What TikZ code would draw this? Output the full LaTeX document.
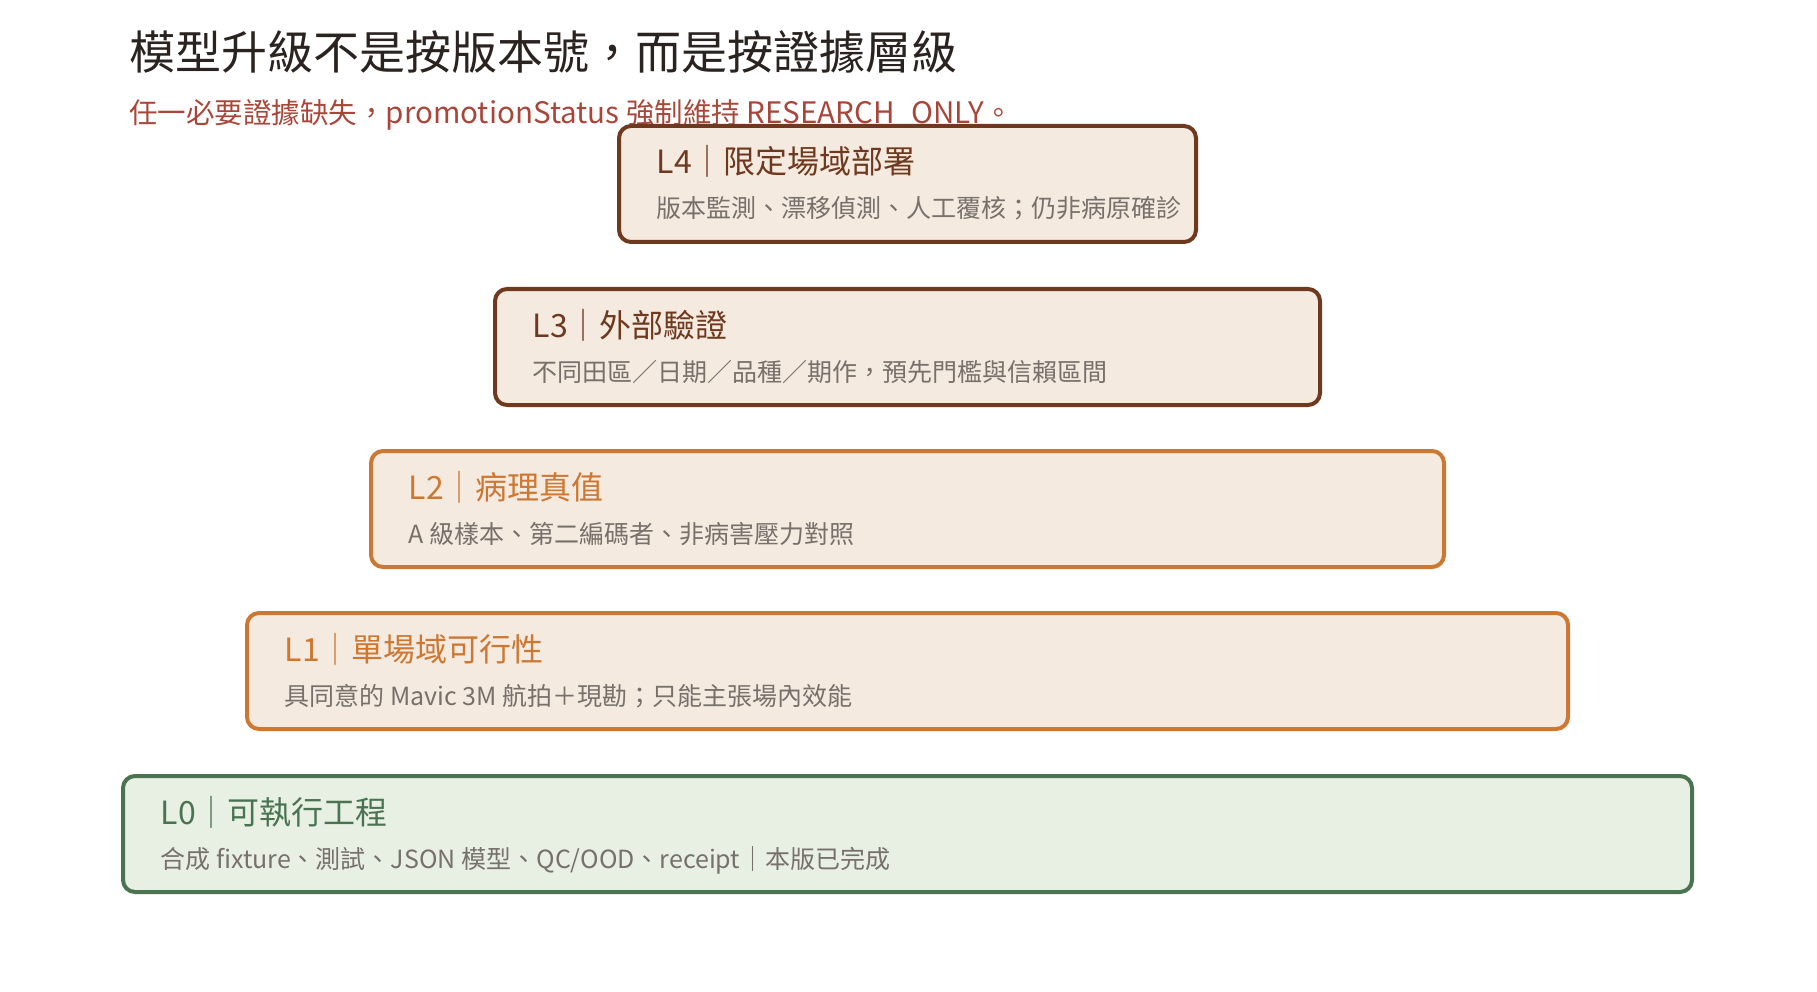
\documentclass[tikz,border=0pt]{standalone}
\usepackage{fontspec}
\setmainfont{Noto Sans CJK TC}
\definecolor{titleink}{HTML}{2B2320}
\definecolor{warnred}{HTML}{A9463A}
\definecolor{brownD}{HTML}{6E391E}
\definecolor{orangeM}{HTML}{CD7832}
\definecolor{greenM}{HTML}{4A7352}
\definecolor{sandfill}{HTML}{F4EAE0}
\definecolor{sagefill}{HTML}{E8F0E4}
\definecolor{descgray}{HTML}{77706B}
\newcommand{\latinrun}[1]{{\fontsize{29.6}{32}\selectfont #1}}
\begin{document}
\begin{tikzpicture}[x=1pt, y=-1pt, line join=round,
    lvlbox/.style={rectangle, rounded corners=12pt, line width=4pt, fill=sandfill,
      minimum height=116pt, anchor=north west, inner sep=0pt},
    lvlhead/.style={anchor=base west, inner sep=0pt, font=\fontsize{32}{36}\selectfont},
    lvldesc/.style={anchor=base west, inner sep=0pt, text=descgray, font=\fontsize{25}{29}\selectfont}]
    \useasboundingbox (0,0) rectangle (1817,992);

    \node[anchor=base west, inner sep=0pt, text=titleink, font=\fontsize{46}{50}\selectfont]
        (title) at (129,70) {模型升級不是按版本號，而是按證據層級};
    \node[anchor=base west, inner sep=0pt, text=warnred, font=\fontsize{28.5}{32}\selectfont]
        (subtitle) at (129,124) {任一必要證據缺失，\latinrun{promotionStatus} 強制維持 \latinrun{RESEARCH\_ONLY}。};

    % levels, widest at the bottom
    \node[lvlbox, draw=greenM, fill=sagefill, minimum width=1569pt] (L0) at (121,774) {};
    \node[lvlbox, draw=orangeM, minimum width=1321pt] (L1) at (245,611) {};
    \node[lvlbox, draw=orangeM, minimum width=1073pt] (L2) at (369,449) {};
    \node[lvlbox, draw=brownD, minimum width=825pt] (L3) at (493,287) {};
    \node[lvlbox, draw=brownD, minimum width=577pt] (L4) at (617,124) {};

    \node[lvlhead, text=greenM] (L0head) at ([xshift=39.5pt,yshift=-50pt]L0.north west) {L0｜可執行工程};
    \node[lvldesc] (L0desc) at ([xshift=39.5pt,yshift=-94pt]L0.north west) {合成 fixture、測試、JSON 模型、QC/OOD、receipt｜本版已完成};

    \node[lvlhead, text=orangeM] (L1head) at ([xshift=39.5pt,yshift=-50pt]L1.north west) {L1｜單場域可行性};
    \node[lvldesc] (L1desc) at ([xshift=39.5pt,yshift=-94pt]L1.north west) {具同意的 Mavic 3M 航拍＋現勘；只能主張場內效能};

    \node[lvlhead, text=orangeM] (L2head) at ([xshift=39.5pt,yshift=-50pt]L2.north west) {L2｜病理真值};
    \node[lvldesc] (L2desc) at ([xshift=39.5pt,yshift=-94pt]L2.north west) {A 級樣本、第二編碼者、非病害壓力對照};

    \node[lvlhead, text=brownD] (L3head) at ([xshift=39.5pt,yshift=-50pt]L3.north west) {L3｜外部驗證};
    \node[lvldesc] (L3desc) at ([xshift=39.5pt,yshift=-94pt]L3.north west) {不同田區／日期／品種／期作，預先門檻與信賴區間};

    \node[lvlhead, text=brownD] (L4head) at ([xshift=39.5pt,yshift=-50pt]L4.north west) {L4｜限定場域部署};
    \node[lvldesc] (L4desc) at ([xshift=39.5pt,yshift=-94pt]L4.north west) {版本監測、漂移偵測、人工覆核；仍非病原確診};
\end{tikzpicture}
\end{document}
